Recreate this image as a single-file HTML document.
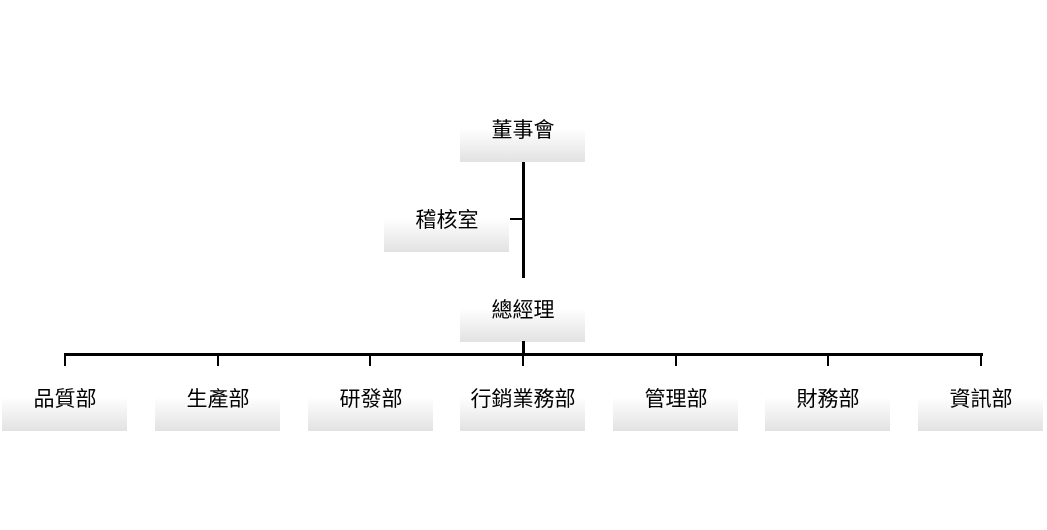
<!DOCTYPE html>
<html><head><meta charset="utf-8"><style>
body{margin:0;width:1047px;height:530px;background:#fff;position:relative;overflow:hidden;font-family:"Liberation Sans","Noto Sans CJK TC",sans-serif;}
.b{position:absolute;width:125px;height:62px;background:linear-gradient(to bottom,#fff 0%,#fff 45%,#f2f2f2 70%,#e2e2e2 100%);}
.t{position:absolute;font-size:21px;color:#000;transform:translate(-50%,-50%);white-space:nowrap;}
.l{position:absolute;background:#000;}
</style></head><body>
<div class="b" style="left:460px;top:100px"></div>
<div class="b" style="left:384px;top:190px"></div>
<div class="b" style="left:460px;top:280px"></div>
<div class="b" style="left:2px;top:369px"></div>
<div class="b" style="left:155px;top:369px"></div>
<div class="b" style="left:308px;top:369px"></div>
<div class="b" style="left:460px;top:369px"></div>
<div class="b" style="left:613px;top:369px"></div>
<div class="b" style="left:765px;top:369px"></div>
<div class="b" style="left:918px;top:369px"></div>

<div class="l" style="left:522px;top:162px;width:3px;height:116px"></div>
<div class="l" style="left:510px;top:218px;width:13px;height:2px"></div>
<div class="l" style="left:522px;top:341px;width:3px;height:14px"></div>
<div class="l" style="left:64px;top:353px;width:919px;height:3px"></div>
<div class="l" style="left:64px;top:353px;width:2px;height:13px"></div>
<div class="l" style="left:217px;top:353px;width:2px;height:13px"></div>
<div class="l" style="left:369px;top:353px;width:2px;height:13px"></div>
<div class="l" style="left:522px;top:353px;width:2px;height:13px"></div>
<div class="l" style="left:675px;top:353px;width:2px;height:13px"></div>
<div class="l" style="left:827px;top:353px;width:2px;height:13px"></div>
<div class="l" style="left:980px;top:353px;width:2px;height:13px"></div>

<div class="t" style="left:523px;top:129px">董事會</div>
<div class="t" style="left:447px;top:219px">稽核室</div>
<div class="t" style="left:523px;top:309px">總經理</div>
<div class="t" style="left:65px;top:398px">品質部</div>
<div class="t" style="left:218px;top:398px">生產部</div>
<div class="t" style="left:371px;top:398px">研發部</div>
<div class="t" style="left:523px;top:398px">行銷業務部</div>
<div class="t" style="left:676px;top:398px">管理部</div>
<div class="t" style="left:828px;top:398px">財務部</div>
<div class="t" style="left:981px;top:398px">資訊部</div>
</body></html>
